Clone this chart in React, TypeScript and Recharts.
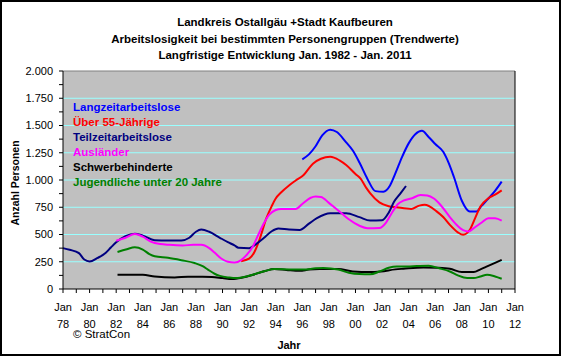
import React from 'react';
import { LineChart, Line, XAxis, YAxis, CartesianGrid, ReferenceLine } from 'recharts';

const FONT = '"Liberation Sans", Arial, sans-serif';

const titleLines = [
  'Landkreis Ostallgäu +Stadt Kaufbeuren',
  'Arbeitslosigkeit bei bestimmten Personengruppen (Trendwerte)',
  'Langfristige Entwicklung Jan. 1982 - Jan. 2011',
];

// Jahresticks (jedes Jahr ein Strich, Beschriftung alle 2 Jahre)
const yearTicks = [
  1978, 1979, 1980, 1981, 1982, 1983, 1984, 1985, 1986, 1987, 1988, 1989,
  1990, 1991, 1992, 1993, 1994, 1995, 1996, 1997, 1998, 1999, 2000, 2001,
  2002, 2003, 2004, 2005, 2006, 2007, 2008, 2009, 2010, 2011, 2012,
];
const gridYears = [1980, 1982, 1984, 1986, 1988, 1990, 1992, 1994, 1996, 1998, 2000, 2002, 2004, 2006, 2008, 2010];
const valueTicks = [0, 125, 250, 375, 500, 625, 750, 875, 1000, 1125, 1250, 1375, 1500, 1625, 1750, 1875, 2000];
const gridValues = [250, 500, 750, 1000, 1250, 1500, 1750];

// [Jahr, Anzahl]
const langzeit: [number, number][] = [
  [1996.0, 1190], [1996.5, 1235], [1997.0, 1310], [1997.5, 1410], [1998.1, 1462], [1998.6, 1440],
  [1999.3, 1345], [1999.8, 1270], [2000.3, 1160], [2000.9, 1010], [2001.5, 898], [2002.1, 893],
  [2002.6, 950], [2003.0, 1060], [2003.5, 1210], [2004.0, 1336], [2004.5, 1420], [2005.0, 1451],
  [2005.5, 1395], [2006.0, 1330], [2006.6, 1259], [2007.0, 1160], [2007.4, 1030], [2008.0, 810],
  [2008.6, 712], [2009.1, 712], [2009.5, 765], [2009.9, 817], [2010.5, 900], [2011.0, 985],
];

const ueber55: [number, number][] = [
  [1991.4, 255], [1992.0, 278], [1992.4, 340], [1992.8, 460], [1993.3, 650], [1993.7, 760],
  [1994.0, 830], [1994.4, 885], [1995.0, 950], [1995.5, 995], [1996.1, 1046], [1996.8, 1150],
  [1997.4, 1195], [1998.1, 1213], [1998.8, 1180], [1999.3, 1137], [2000.0, 1055], [2000.4, 1010],
  [2000.8, 930], [2001.1, 880], [2001.8, 795], [2002.5, 760], [2003.1, 750], [2004.2, 735],
  [2004.8, 765], [2005.2, 772], [2006.1, 712], [2006.6, 660], [2007.1, 588], [2007.7, 520],
  [2008.1, 497], [2008.6, 543], [2009.0, 650], [2009.4, 756], [2010.0, 833], [2010.5, 865],
  [2011.0, 905],
];

const teilzeit: [number, number][] = [
  [1978.0, 375], [1978.5, 360], [1979.2, 329], [1979.6, 270], [1980.0, 252], [1980.6, 285],
  [1981.2, 330], [1981.6, 380], [1982.0, 428], [1982.7, 485], [1983.4, 508], [1984.0, 490],
  [1984.9, 448], [1985.9, 445], [1986.9, 445], [1987.5, 470], [1988.0, 525], [1988.4, 545],
  [1989.0, 525], [1989.8, 470], [1990.4, 430], [1990.9, 400], [1991.2, 378], [1992.0, 375],
  [1992.5, 410], [1993.1, 467], [1993.7, 530], [1994.2, 555], [1995.0, 545], [1995.8, 542],
  [1996.5, 600], [1997.1, 650], [1998.1, 695], [1999.3, 695], [2000.3, 659], [2001.1, 628],
  [2002.0, 630], [2002.5, 700], [2002.9, 800], [2003.4, 880], [2003.8, 945],
];

const auslaender: [number, number][] = [
  [1982.0, 442], [1982.7, 470], [1983.4, 505], [1984.0, 480], [1984.6, 435], [1985.3, 412],
  [1986.0, 405], [1987.0, 400], [1987.8, 405], [1988.4, 405], [1989.0, 375], [1989.4, 335],
  [1989.9, 280], [1990.4, 250], [1990.9, 243], [1991.4, 265], [1991.8, 310], [1992.3, 395],
  [1992.7, 500], [1993.1, 600], [1993.5, 680], [1994.0, 725], [1994.4, 735], [1995.5, 735],
  [1996.0, 780], [1996.6, 835], [1997.0, 848], [1997.4, 845], [1998.0, 790], [1998.4, 750],
  [1999.0, 690], [1999.5, 640], [2000.3, 580], [2000.9, 558], [2001.8, 560], [2002.3, 610],
  [2002.7, 690], [2003.2, 780], [2003.6, 810], [2004.2, 830], [2004.9, 862], [2005.4, 858],
  [2005.9, 830], [2006.4, 771], [2007.1, 660], [2007.6, 590], [2008.1, 540], [2008.5, 528],
  [2008.9, 558], [2009.5, 610], [2010.0, 650], [2010.5, 648], [2011.0, 628],
];

const schwerbehinderte: [number, number][] = [
  [1982.1, 131], [1984.0, 131], [1984.9, 115], [1986.4, 106], [1987.4, 112], [1988.5, 112],
  [1989.2, 110], [1990.0, 100], [1990.7, 91], [1991.5, 105], [1992.3, 131], [1993.2, 165],
  [1993.9, 183], [1994.8, 175], [1995.8, 167], [1996.5, 178], [1997.3, 183], [1998.7, 183],
  [1999.8, 161], [2001.1, 155], [2001.9, 161], [2003.0, 180], [2003.6, 186], [2005.1, 198],
  [2006.2, 195], [2007.1, 186], [2008.0, 155], [2008.9, 155], [2009.4, 180], [2009.9, 207],
  [2010.5, 240], [2011.0, 268],
];

const jugendliche: [number, number][] = [
  [1982.1, 340], [1982.8, 365], [1983.4, 382], [1984.0, 362], [1984.5, 320], [1984.9, 300],
  [1985.9, 286], [1986.9, 264], [1987.9, 238], [1988.5, 210], [1988.9, 178], [1989.4, 140],
  [1989.8, 120], [1990.5, 105], [1991.0, 100], [1991.8, 115], [1992.5, 140], [1993.2, 165],
  [1993.9, 183], [1995.0, 180], [1996.1, 178], [1997.0, 190], [1997.6, 193], [1998.7, 178],
  [1999.5, 150], [2000.3, 137], [2001.1, 135], [2001.8, 160], [2002.5, 195], [2003.1, 207],
  [2003.9, 207], [2004.6, 210], [2005.5, 213], [2006.3, 190], [2007.1, 161], [2007.7, 125],
  [2008.4, 100], [2008.9, 100], [2009.4, 115], [2009.9, 131], [2010.5, 115], [2011.0, 94],
];

const series = [
  { name: 'Langzeitarbeitslose', color: '#0000ff', points: langzeit },
  { name: 'Über 55-Jährige', color: '#ff0000', points: ueber55 },
  { name: 'Teilzeitarbeitslose', color: '#000080', points: teilzeit },
  { name: 'Ausländer', color: '#ff00ff', points: auslaender },
  { name: 'Schwerbehinderte', color: '#000000', points: schwerbehinderte },
  { name: 'Jugendliche unter 20 Jahre', color: '#008000', points: jugendliche },
];

const toRows = (points: [number, number][]) => points.map(([year, value]) => ({ year, value }));

const formatValue = (v: number) =>
  v % 250 === 0 ? String(v).replace(/\B(?=(\d{3})+(?!\d))/g, '.') : '';

const YearTick = (props: any) => {
  const { x, y, payload } = props;
  const yr: number = payload.value;
  if (yr % 2 !== 0) return <g />;
  return (
    <text textAnchor="middle" fontSize={11} fill="#000" fontFamily={FONT}>
      <tspan x={x} y={y + 16}>Jan</tspan>
      <tspan x={x} y={y + 33}>{String(yr).slice(2)}</tspan>
    </text>
  );
};

const App = () => {
  return (
    <div style={{ position: 'relative', width: 561, height: 356, fontFamily: FONT }}>
      <style>{'body{margin:0}'}</style>
      <LineChart width={561} height={356} margin={{ top: 71, right: 0, bottom: 0, left: 0 }}>
        <CartesianGrid fill="#c0c0c0" horizontal={false} vertical={false} />
        {gridYears.map((yr) => (
          <ReferenceLine key={'gx' + yr} x={yr} stroke="#99ffff" strokeWidth={1} />
        ))}
        {gridValues.map((v) => (
          <ReferenceLine key={'gy' + v} y={v} yAxisId="left" stroke="#99ffff" strokeWidth={1} />
        ))}
        <ReferenceLine y={2000} yAxisId="left" stroke="#808080" strokeWidth={1} />
        <XAxis
          dataKey="year"
          type="number"
          domain={[1978, 2012]}
          ticks={yearTicks}
          interval={0}
          allowDuplicatedCategory={false}
          height={67}
          stroke="#000"
          tickSize={4}
          tickMargin={2}
          tick={<YearTick />}
        />
        <YAxis
          yAxisId="left"
          domain={[0, 2000]}
          ticks={valueTicks}
          interval={0}
          width={63}
          stroke="#000"
          tickSize={4}
          tickMargin={6}
          tickFormatter={formatValue}
          tick={{ fontSize: 11, fill: '#000', fontFamily: FONT }}
        />
        <YAxis
          yAxisId="right"
          orientation="right"
          domain={[0, 2000]}
          ticks={valueTicks}
          interval={0}
          width={46}
          stroke="#000"
          tickSize={4}
          tickMargin={4}
          tickFormatter={formatValue}
          tick={{ fontSize: 11, fill: '#000', fontFamily: FONT, textAnchor: 'start' }}
        />
        {series.map((s) => (
          <Line
            key={s.name}
            yAxisId="left"
            data={toRows(s.points)}
            dataKey="value"
            name={s.name}
            type="monotone"
            stroke={s.color}
            strokeWidth={2}
            dot={false}
            activeDot={false}
            isAnimationActive={false}
          />
        ))}
      </LineChart>

      <svg width={561} height={356} style={{ position: 'absolute', left: 0, top: 0, pointerEvents: 'none' }}>
        <rect x={1} y={1} width={559} height={354} fill="none" stroke="#000" strokeWidth={2} />
        {titleLines.map((t, i) => (
          <text key={t} x={285} y={26 + i * 16.5} textAnchor="middle" fontSize={11.5} fontWeight="bold" fill="#000" fontFamily={FONT}>
            {t}
          </text>
        ))}
        {series.map((s, i) => (
          <text key={s.name} x={73} y={111 + i * 15} fontSize={11.5} fontWeight="bold" fill={s.color} fontFamily={FONT}>
            {s.name}
          </text>
        ))}
        <text x={0} y={0} transform="translate(19,183) rotate(-90)" textAnchor="middle" fontSize={10.5} fontWeight="bold" fill="#000" fontFamily={FONT}>
          Anzahl Personen
        </text>
        <text x={289} y={348.5} textAnchor="middle" fontSize={11} fontWeight="bold" fill="#000" fontFamily={FONT}>
          Jahr
        </text>
        <text x={73} y={338} fontSize={11.5} fill="#000" fontFamily={FONT}>
          © StratCon
        </text>
      </svg>
    </div>
  );
};

export default App;
